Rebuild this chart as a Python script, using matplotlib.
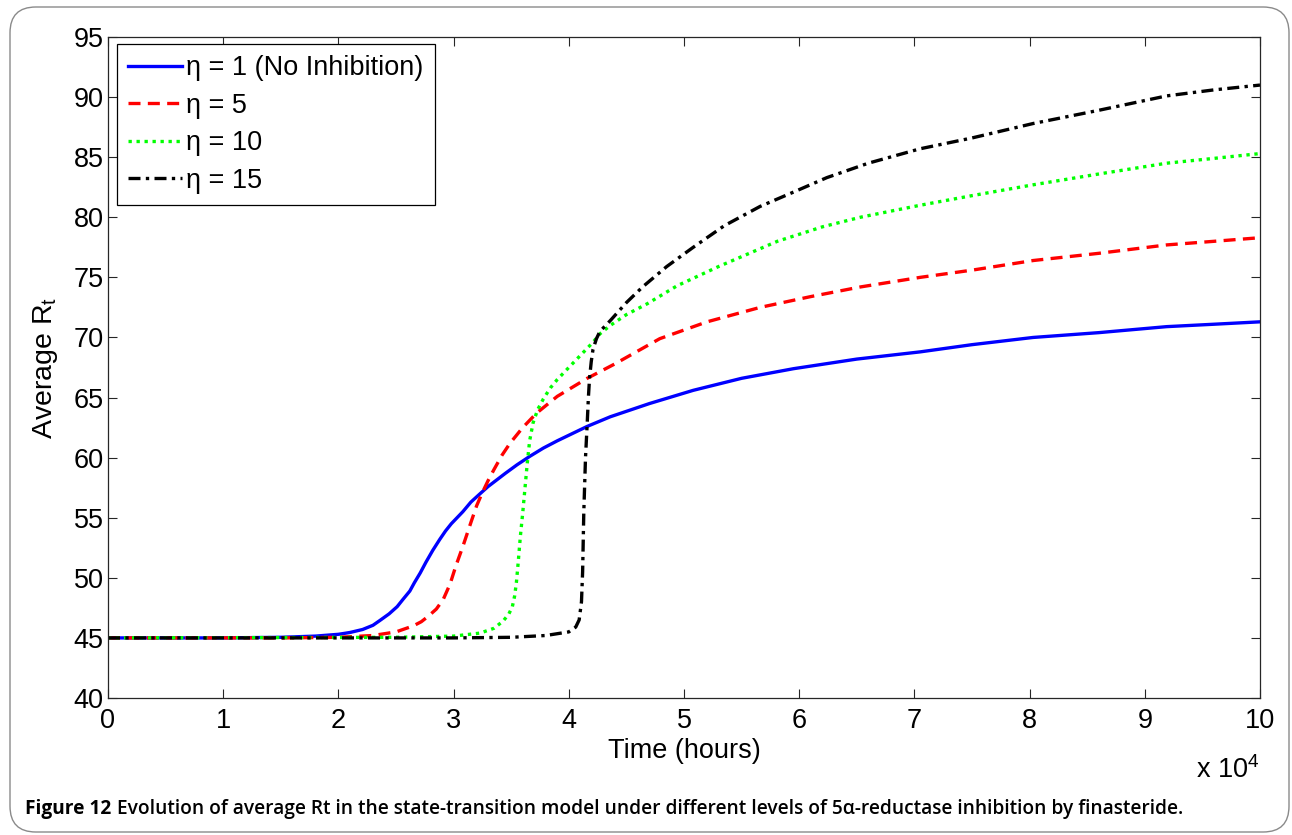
import matplotlib
matplotlib.use("Agg")
import matplotlib.pyplot as plt
from matplotlib.patches import FancyBboxPatch

plt.rcParams['font.family'] = ['Liberation Sans', 'DejaVu Sans']

# Time in units of 1e4 hours, Average Rt values
t_eta1 = [0, 1.0, 1.5, 1.8, 2.0, 2.1, 2.21, 2.3, 2.36, 2.44, 2.51, 2.56, 2.62, 2.66, 2.71,
          2.76, 2.82, 2.88, 2.93, 2.98, 3.03, 3.08, 3.15, 3.23, 3.3, 3.45, 3.55, 3.66, 3.78,
          3.9, 4.03, 4.16, 4.36, 4.7, 5.08, 5.5, 5.95, 6.5, 7.05, 7.5, 8.03, 8.6, 9.19, 9.6, 10]
r_eta1 = [45, 45, 45.05, 45.15, 45.3, 45.45, 45.7, 46.05, 46.45, 47.0, 47.6, 48.2, 48.9,
          49.6, 50.4, 51.3, 52.3, 53.2, 53.9, 54.5, 55.0, 55.5, 56.3, 57.0, 57.6, 58.7, 59.4,
          60.1, 60.8, 61.4, 62.0, 62.6, 63.4, 64.5, 65.6, 66.6, 67.4, 68.2, 68.8, 69.4,
          70.0, 70.4, 70.9, 71.1, 71.3]

t_eta5 = [0, 1.5, 2.0, 2.3, 2.5, 2.65, 2.72, 2.78, 2.85, 2.91, 2.97, 3.02, 3.08, 3.15, 3.2,
          3.25, 3.3, 3.35, 3.42, 3.49, 3.6, 3.72, 3.9, 4.16, 4.4, 4.79, 5.2, 5.66, 6.1, 6.53,
          7.05, 7.5, 8.03, 8.6, 9.19, 9.6, 10]
r_eta5 = [45, 45, 45.05, 45.2, 45.5, 46.0, 46.35, 46.8, 47.4, 48.2, 49.5, 51.0, 52.6, 54.6,
          56.0, 57.1, 58.1, 59.0, 60.2, 61.2, 62.5, 63.7, 65.1, 66.6, 67.8, 69.9, 71.3, 72.5,
          73.4, 74.2, 75.0, 75.6, 76.4, 77.0, 77.7, 78.0, 78.3]

t_eta10 = [0, 2.5, 3.0, 3.23, 3.35, 3.43, 3.48, 3.51, 3.53, 3.545, 3.56, 3.58, 3.6, 3.62,
           3.64, 3.66, 3.69, 3.73, 3.78, 3.84, 3.9, 3.98, 4.1, 4.21, 4.27, 4.36, 4.5, 4.68,
           4.94, 5.3, 5.81, 6.2, 6.53, 7.05, 7.5, 8.03, 8.6, 9.19, 9.6, 10]
r_eta10 = [45, 45.05, 45.15, 45.4, 45.8, 46.4, 47.0, 47.6, 48.5, 49.6, 51.2, 53.5, 55.4,
           57.5, 59.6, 61.4, 62.9, 64.0, 64.9, 65.8, 66.5, 67.3, 68.5, 69.6, 70.3, 71.0, 71.9,
           72.8, 74.3, 75.9, 78.0, 79.2, 80.0, 81.0, 81.8, 82.7, 83.6, 84.5, 84.9, 85.3]

t_eta15 = [0, 3.0, 3.5, 3.8, 4.0, 4.06, 4.09, 4.11, 4.12, 4.13, 4.145, 4.16, 4.17, 4.18,
           4.195, 4.21, 4.24, 4.27, 4.36, 4.5, 4.64, 4.85, 5.08, 5.35, 5.66, 6.0, 6.24, 6.6,
           7.05, 7.5, 8.03, 8.6, 9.19, 9.6, 10]
r_eta15 = [45, 45, 45.05, 45.2, 45.5, 45.9, 46.5, 48.0, 50.5, 55.4, 60.0, 62.9, 65.0, 66.6,
           68.0, 69.0, 69.9, 70.5, 71.4, 72.9, 74.2, 75.9, 77.5, 79.3, 80.9, 82.3, 83.3, 84.5,
           85.7, 86.6, 87.8, 88.9, 90.1, 90.6, 91.0]

labels = ['η = 1 (No Inhibition)', 'η = 5', 'η = 10', 'η = 15']
x_ticks = list(range(0, 11))
y_ticks = list(range(40, 100, 5))

FS = 19.5

fig = plt.figure(figsize=(12.92, 8.35), dpi=100)

# rounded frame around figure + caption
frame = FancyBboxPatch((10 / 1292, 3 / 835), 1279 / 1292, 825 / 835,
                       boxstyle="round,pad=0,rounding_size=0.02",
                       transform=fig.transFigure, facecolor='none',
                       edgecolor='#8a8a8a', linewidth=1.0, mutation_aspect=1292 / 835)
fig.patches.append(frame)

ax = fig.add_axes([108 / 1292, 1 - 698 / 835, 1152 / 1292, 661 / 835])

ax.plot(t_eta1, r_eta1, color='#0000ff', lw=2.4, linestyle='-', label=labels[0])
ax.plot(t_eta5, r_eta5, color='#ff0000', lw=2.4, linestyle=(0, (3.6, 2.2)), label=labels[1])
ax.plot(t_eta10, r_eta10, color='#00ff00', lw=2.4, linestyle=(0, (1.0, 1.4)), label=labels[2])
ax.plot(t_eta15, r_eta15, color='#000000', lw=2.4, linestyle=(0, (3.6, 1.6, 1.0, 1.6)), label=labels[3])

ax.set_xlim(0, 10)
ax.set_ylim(40, 95)
ax.set_xticks(x_ticks)
ax.set_yticks(y_ticks)
ax.tick_params(direction='in', length=6.5, width=0.8, labelsize=FS, top=True, right=True,
               colors='#262626', labelcolor='black')
ax.tick_params(axis='x', pad=7)
ax.tick_params(axis='y', pad=3)
for sp in ax.spines.values():
    sp.set_linewidth(0.9)
    sp.set_color('#262626')

ax.set_xlabel('Time (hours)', fontsize=FS, labelpad=3)
ax.set_ylabel('Average R$_\\mathregular{t}$', fontsize=FS + 1, labelpad=10)
ax.text(1.0, -0.088, 'x 10$^\\mathregular{4}$', transform=ax.transAxes, fontsize=FS,
        ha='right', va='top')

leg = ax.legend(loc='upper left', bbox_to_anchor=(0.0075, 0.99), fontsize=FS,
                frameon=True, fancybox=False, edgecolor='black', framealpha=1,
                handlelength=2.0, handletextpad=0.15, labelspacing=0.43,
                borderpad=0.42, borderaxespad=0)
leg.get_frame().set_linewidth(0.9)

cap_y = 1 - 809 / 835
t1 = fig.text(25 / 1292, cap_y, 'Figure 12', fontsize=13.8, fontweight='bold',
              family=['Open Sans', 'DejaVu Sans'], va='center', ha='left')
renderer = fig.canvas.get_renderer()
bb = t1.get_window_extent(renderer=renderer)
fig.text((bb.x1 + 6) / 1292, cap_y,
         'Evolution of average Rt in the state-transition model under different levels of '
         '5α-reductase inhibition by finasteride.',
         fontsize=13.8, fontweight='semibold', family=['Open Sans', 'DejaVu Sans'],
         va='center', ha='left')

fig.savefig('out.png', dpi=100)
